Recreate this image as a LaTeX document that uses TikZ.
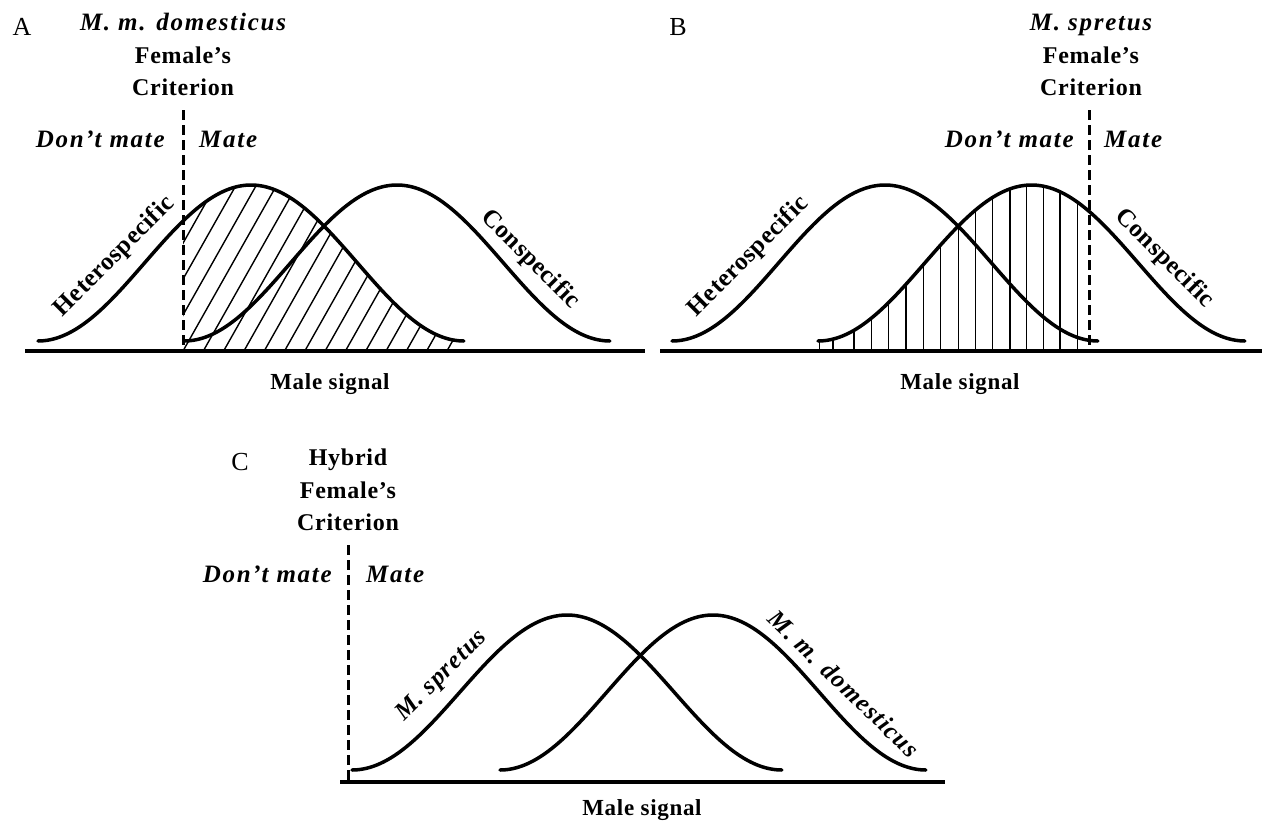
\documentclass[tikz,border=0pt]{standalone}
\usepackage{fontspec}
\setmainfont{Liberation Serif}[LetterSpace=3]
\newfontfamily\panelfont{Liberation Serif}
\newfontfamily\hdrifont{Liberation Serif}[LetterSpace=7]
\newfontfamily\crvfont{Liberation Serif}[LetterSpace=2]
\newfontfamily\crvifont{Liberation Serif}[LetterSpace=5]
\begin{document}
\begin{tikzpicture}[x=1pt,y=-1pt,
  curve/.style={line width=3.5pt, line cap=round, line join=round},
  axisline/.style={line width=4pt},
  crit/.style={line width=3pt, dash pattern=on 10pt off 5pt},
  hatch/.style={line width=1.4pt},
  hdr/.style={font=\fontsize{24}{28}\selectfont\bfseries, inner sep=0pt, anchor=base},
  hdri/.style={font=\fontsize{25}{29}\hdrifont\bfseries\itshape, inner sep=0pt, anchor=base},
  axl/.style={font=\fontsize{23}{27}\selectfont\bfseries, inner sep=0pt, anchor=base},
  crv/.style={font=\fontsize{25}{29}\crvfont\bfseries, inner sep=0pt, anchor=base},
  crvi/.style={font=\fontsize{25}{29}\crvifont\bfseries\itshape, inner sep=0pt, anchor=base},
  panel/.style={font=\fontsize{26}{30}\panelfont, inner sep=0pt, anchor=base},
]
\useasboundingbox[fill=white] (0,0) rectangle (1272,825);

% ---------------- Panel A ----------------
\begin{scope}
  \clip (183,0) rectangle (468,351);
  \clip plot[domain=-1:1,samples=90,smooth] ({251+213*\x},{341-156*(1+cos(180*\x))/2}) -- (464,351) -- (38,351) -- cycle;
  \foreach \k in {-8,...,14}
    \draw[hatch] ({183+20.3*\k},351) -- ++(113,-200);
\end{scope}
\draw[curve] plot[domain=-1:1,samples=90,smooth] ({251+213*\x},{341-156*(1+cos(180*\x))/2});
\draw[curve] plot[domain=-1:1,samples=90,smooth] ({397+213*\x},{341-156*(1+cos(180*\x))/2});
\draw[axisline] (25,351) -- (645,351);
\draw[crit] (183,110) -- (183,351);

\node[panel] (pA) at (22,35) {A};
\node[hdri] (tA1) at (183,30) {M. m. domesticus};
\node[hdr] (tA2) at (183,63) {Female’s};
\node[hdr] (tA3) at (183,95) {Criterion};
\node[hdri, anchor=base east] (dA) at (165,147) {Don’t mate};
\node[hdri, anchor=base west] (mA) at (199,147) {Mate};
\node[crv, rotate=45] (hA) at (119,261) {Heterospecific};
\node[crv, rotate=-45] (cA) at (526,264) {Conspecific};
\node[axl] (sA) at (330,389) {Male signal};

% ---------------- Panel B ----------------
\begin{scope}
  \clip (818,0) rectangle (1089,351);
  \clip plot[domain=-1:1,samples=90,smooth] ({1031.5+213.5*\x},{341-156*(1+cos(180*\x))/2}) -- (1245,351) -- (818,351) -- cycle;
  \foreach \xx in {819.5,833,854,871.5,888.5,906,923.3,940.7,958.3,975.7,992.7,1010,1026.7,1043.3,1060,1077.7}
    \draw[hatch] (\xx,351) -- (\xx,150);
\end{scope}
\draw[curve] plot[domain=-1:1,samples=90,smooth] ({885+213*\x},{341-156*(1+cos(180*\x))/2});
\draw[curve] plot[domain=-1:1,samples=90,smooth] ({1031.5+213.5*\x},{341-156*(1+cos(180*\x))/2});
\draw[axisline] (660,351) -- (1262,351);
\draw[crit] (1089,110) -- (1089,351);

\node[panel] (pB) at (678,35) {B};
\node[hdri] (tB1) at (1091,30) {M. spretus};
\node[hdr] (tB2) at (1091,63) {Female’s};
\node[hdr] (tB3) at (1091,95) {Criterion};
\node[hdri, anchor=base east] (dB) at (1074,147) {Don’t mate};
\node[hdri, anchor=base west] (mB) at (1104,147) {Mate};
\node[crv, rotate=45] (hB) at (753,261) {Heterospecific};
\node[crv, rotate=-45] (cB) at (1160,263) {Conspecific};
\node[axl] (sB) at (960,389) {Male signal};

% ---------------- Panel C ----------------
\draw[curve] plot[domain=-1:1,samples=90,smooth] ({567+215*\x},{770-155*(1+cos(180*\x))/2});
\draw[curve] plot[domain=-1:1,samples=90,smooth] ({713+213*\x},{770-155*(1+cos(180*\x))/2});
\draw[axisline] (340,782) -- (945,782);
\draw[crit] (348,545) -- (348,782);

\node[panel] (pC) at (240,470) {C};
\node[hdr] (tC1) at (348,465) {Hybrid};
\node[hdr] (tC2) at (348,498) {Female’s};
\node[hdr] (tC3) at (348,530) {Criterion};
\node[hdri, anchor=base east] (dC) at (332,582) {Don’t mate};
\node[hdri, anchor=base west] (mC) at (366,582) {Mate};
\node[crvi, rotate=45] (lS) at (446,680) {M. spretus};
\node[crvi, rotate=-44] (lD) at (838,690) {M. m. domesticus};
\node[axl] (sC) at (642,815) {Male signal};
\end{tikzpicture}
\end{document}
